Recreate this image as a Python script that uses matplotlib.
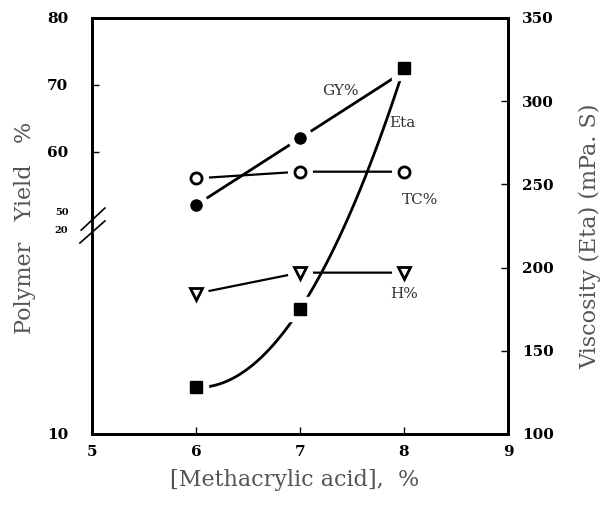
import numpy as np
import matplotlib
matplotlib.use("Agg")
import matplotlib.pyplot as plt

# data
acid = [6, 7, 8]
gy = [52, 62, 72]          # graft yield %, left upper scale
tc = [56, 57, 57]          # total conversion %, left upper scale
h = [16.7, 17.7, 17.7]     # homopolymer %, left lower scale
eta = [128, 175, 320]      # viscosity mPa.S, right scale

left_ticks = [10, 60, 70, 80]
break_ticks = [50, 20]
right_ticks = [100, 150, 200, 250, 300, 350]
x_ticks = [5, 6, 7, 8, 9]


# broken left axis: 10-20 on the lower part, 50-80 on the upper part
def fwd(v):
    v = np.asarray(v, dtype=float)
    return np.where(v <= 20, (v - 10) * 21.0,
                    np.where(v >= 50, 216 + (v - 50) * 6.7,
                             210 + (v - 20) * 0.2))


def inv(p):
    p = np.asarray(p, dtype=float)
    return np.where(p <= 210, 10 + p / 21.0,
                    np.where(p >= 216, 50 + (p - 216) / 6.7,
                             20 + (p - 210) / 0.2))


tick_font = dict(family="DejaVu Serif", weight="bold", size=11)

fig = plt.figure(figsize=(6.06, 5.08), dpi=100)
ax = fig.add_axes([0.1518, 0.1457, 0.6865, 0.819])
ax.set_yscale("function", functions=(fwd, inv))
ax.set_xlim(5, 9)
ax.set_ylim(10, 80)
ax.set_yticks(left_ticks)
ax.set_yticklabels([str(t) for t in left_ticks], fontdict=tick_font)
ax.set_xticks(x_ticks)
ax.set_xticklabels([str(t) for t in x_ticks], fontdict=tick_font)
ax.tick_params(axis="y", direction="in", length=5, width=1, pad=17)
ax.tick_params(axis="x", direction="in", length=5, width=1, pad=8)
for s in ax.spines.values():
    s.set_linewidth(2)

# the two squeezed labels at the break
yt = ax.get_yaxis_transform()
for v, dy in zip(break_ticks, [4, -4]):
    ax.annotate(str(v), xy=(0, v), xycoords=yt, xytext=(-17, dy), textcoords="offset points",
                ha="right", va="center", family="DejaVu Serif", weight="bold", size=7)

ax2 = ax.twinx()
ax2.set_ylim(100, 350)
ax2.set_yticks(right_ticks)
ax2.set_yticklabels([str(t) for t in right_ticks], fontdict=tick_font)
ax2.tick_params(axis="y", direction="in", length=5, width=1, pad=10)
for s in ax2.spines.values():
    s.set_linewidth(2)

# lines
ax.plot(acid, gy, color="black", lw=2, zorder=2)
ax.plot(acid, tc, color="black", lw=1.6, zorder=2)
ax.plot(acid, h, color="black", lw=1.6, zorder=2)
coef = np.polyfit(acid, eta, 2)
xs = np.linspace(acid[0], acid[-1], 100)
ax2.plot(xs, np.polyval(coef, xs), color="black", lw=2, zorder=2)

# white halos so the lines stop short of the markers
halo = dict(ls="none", color="white", markersize=17, zorder=3)
ax.plot(acid, gy, marker="o", **halo)
ax.plot(acid, tc, marker="o", **halo)
ax.plot(acid, h, marker="o", **halo)
ax2.plot(acid, eta, marker="s", **halo)

ax.plot(acid, gy, ls="none", marker="o", ms=8, mfc="black", mec="black", zorder=4)
ax.plot(acid, tc, ls="none", marker="o", ms=8, mfc="white", mec="black", mew=2, zorder=4)
ax.plot(acid, h, ls="none", marker="v", ms=9, mfc="white", mec="black", mew=2, zorder=4)
ax2.plot(acid, eta, ls="none", marker="s", ms=8.5, mfc="black", mec="black", zorder=4)

# curve labels
lab = dict(family="DejaVu Serif", size=11, color="#333333")
ax.text(7.39, 69, "GY%", ha="center", va="center", **lab)
ax2.text(7.86, 287, "Eta", ha="left", va="center", **lab)
ax.text(8.15, 52.8, "TC%", ha="center", va="center", **lab)
ax.text(8.0, 16.7, "H%", ha="center", va="center", **lab)

# axis break marks on the left spine
ta = ax.transAxes
ax.fill([-0.01, 0.01, 0.01, -0.01], [0.483, 0.483, 0.512, 0.512], color="white",
        transform=ta, clip_on=False, zorder=5)
ax.plot([-0.026, 0.031], [0.490, 0.543], color="black", lw=1.2, transform=ta, clip_on=False, zorder=6)
ax.plot([-0.029, 0.031], [0.459, 0.512], color="black", lw=1.2, transform=ta, clip_on=False, zorder=6)

lbl = dict(family="DejaVu Serif", size=16, color="#555555")
ax.set_xlabel("[Methacrylic acid],  %", **lbl)
ax.set_ylabel("Polymer   Yield   %", **lbl)
ax2.set_ylabel("Viscosity (Eta) (mPa. S)", **lbl)
ax.xaxis.set_label_coords(0.486, -0.085)
ax.yaxis.set_label_coords(-0.135, 0.495)
ax2.yaxis.set_label_coords(1.17, 0.476)

fig.savefig("out.png", dpi=100)
